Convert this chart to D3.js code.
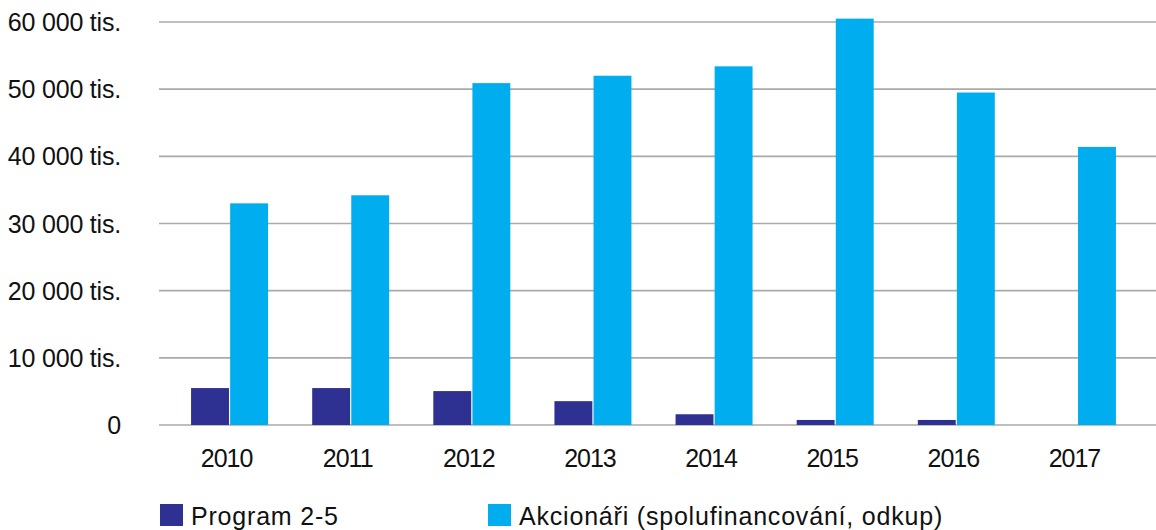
<!DOCTYPE html>
<html>
<head>
<meta charset="utf-8">
<script src="https://cdn.jsdelivr.net/npm/d3@7"></script>
<style>
  body { margin: 0; background: #fff; }
  svg { display: block; font-family: "Liberation Sans", Arial, sans-serif; }
</style>
</head>
<body>
<svg id="chart"></svg>
<script>
// data
const years = ["2010", "2011", "2012", "2013", "2014", "2015", "2016", "2017"];
const seriesNames = ["Program 2-5", "Akcionáři (spolufinancování, odkup)"];
const program = [5500, 5500, 5050, 3550, 1600, 750, 750, 0];
const akcionari = [33000, 34200, 50900, 52000, 53400, 60500, 49500, 41400];
const yTicks = [0, 10000, 20000, 30000, 40000, 50000, 60000];
const colors = ["#2e3192", "#00aeef"];

const w = 1156, h = 530;

const svg = d3.select("#chart")
    .attr("width", w)
    .attr("height", h);

//scales
const y = d3.scaleLinear().domain([0, 60000]).range([425, 22]);
const x0 = d3.scaleBand().domain(years).range([169, 1138]);
const bw = x0.bandwidth();
const x1 = d3.scaleBand().domain(seriesNames)
    .range([bw / 2 - 38.5, bw / 2 + 38.5])
    .paddingInner(0.03);
const color = d3.scaleOrdinal().domain(seriesNames).range(colors);

const fmt = v => v === 0 ? "0" : d3.format(",")(v).replace(/,/g, " ") + " tis.";

//gridlines
svg.append("g")
    .selectAll("line")
    .data(yTicks)
    .join("line")
    .attr("x1", 159)
    .attr("x2", w)
    .attr("y1", d => y(d))
    .attr("y2", d => y(d))
    .style("stroke", "#aaaaaa")
    .style("stroke-width", "1.6px");

//y labels
svg.append("g")
    .selectAll("text")
    .data(yTicks)
    .join("text")
    .attr("x", 121)
    .attr("y", d => y(d))
    .attr("dy", "0.36em")
    .attr("text-anchor", "end")
    .style("font-size", "25px")
    .style("letter-spacing", "-0.2px")
    .style("fill", "#111")
    .text(fmt);

//bars
const rows = years.map((yr, i) => ({ year: yr, values: [program[i], akcionari[i]] }));

const groups = svg.append("g")
    .selectAll("g")
    .data(rows)
    .join("g")
    .attr("transform", d => `translate(${x0(d.year)},0)`);

groups.selectAll("rect")
    .data(d => d.values.map((v, k) => ({ key: seriesNames[k], value: v })).filter(d => d.value > 0))
    .join("rect")
    .attr("x", d => x1(d.key))
    .attr("width", x1.bandwidth())
    .attr("y", d => y(d.value))
    .attr("height", d => y(0) - y(d.value))
    .style("fill", d => color(d.key));

//x labels
svg.append("g")
    .selectAll("text")
    .data(years)
    .join("text")
    .attr("x", d => x0(d) + bw / 2 - 3)
    .attr("y", 467)
    .attr("text-anchor", "middle")
    .style("font-size", "25px")
    .style("letter-spacing", "-1px")
    .style("fill", "#111")
    .text(d => d);

//legend
const legendX = [160, 488];
const legend = svg.append("g")
    .selectAll("g")
    .data(seriesNames)
    .join("g")
    .attr("transform", (d, i) => `translate(${legendX[i]},504)`);

legend.append("rect")
    .attr("width", 23)
    .attr("height", 22)
    .style("fill", d => color(d));

legend.append("text")
    .attr("x", 31)
    .attr("y", 21)
    .style("font-size", "25px")
    .style("letter-spacing", "0.8px")
    .style("fill", "#111")
    .text(d => d);
</script>
</body>
</html>
